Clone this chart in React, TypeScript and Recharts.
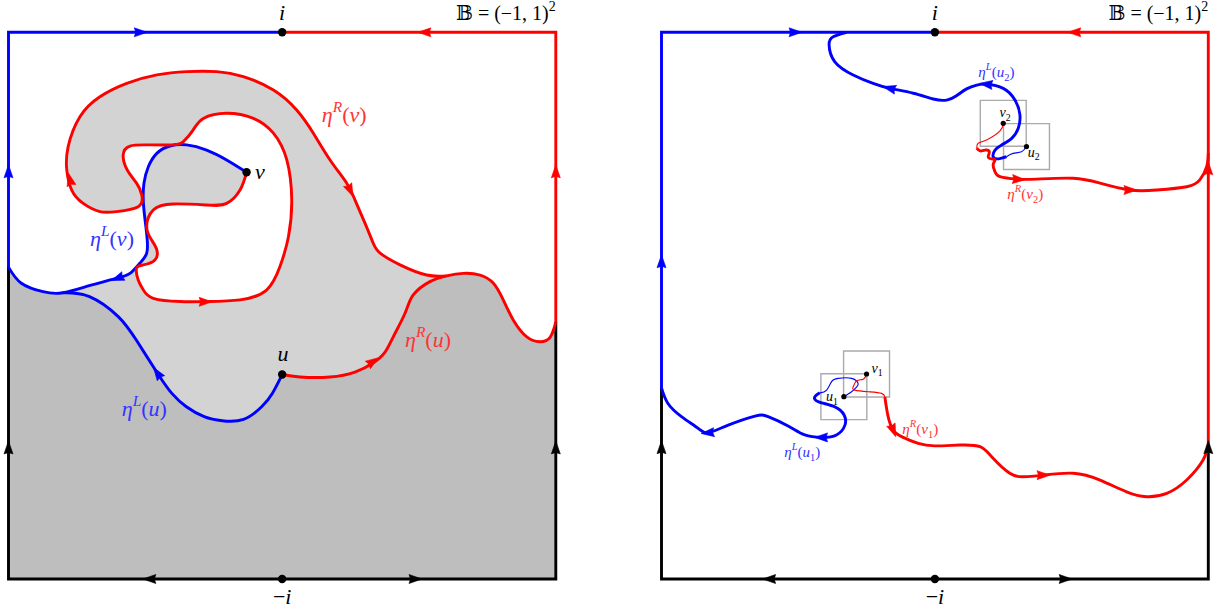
import React from 'react';
import { ComposedChart, XAxis, YAxis, Line, Area, Scatter, ReferenceArea, ReferenceDot } from 'recharts';

type Pt = { x: number; y: number };
type Arrow = { x: number; y: number; dx: number; dy: number };
type Lbl = { x: number; y: number; tex: string };

const BLUE = '#0000ff';
const RED = '#ff0000';
const BLACK = '#000000';
const LIGHT = '#d3d3d3';
const DARK = '#bebebe';
const WHITE = '#ffffff';
const LBL_BLUE = '#3333ff';
const LBL_RED = '#ff3333';
const BOX = '#aaaaaa';
const FONT = '"Liberation Serif", "DejaVu Serif", serif';
const BOX_HALF = 0.084;

// ================= LEFT PANEL (coordinates in B = (-1,1)^2) =================
const L_V: Pt = { x: -0.130, y: 0.488 };
const L_U: Pt = { x: 0.0, y: -0.252 };
const L_J: Pt = { x: 0.601, y: 0.109 };
const L_M: Pt = { x: -0.802, y: 0.047 };
const L_K: Pt = { x: -0.507, y: 0.374 };
const L_BL: Pt = { x: -1, y: -1 };
const L_BR: Pt = { x: 1, y: -1 };

// eta^R(v): from v, inner loop
const L_etaRvInner: Pt[] = [
  { x: -0.154, y: 0.423 }, { x: -0.203, y: 0.374 }, { x: -0.276, y: 0.368 }, { x: -0.398, y: 0.372 },
  { x: -0.471, y: 0.350 }, { x: -0.495, y: 0.289 }, { x: -0.477, y: 0.240 }, { x: -0.458, y: 0.204 },
  { x: -0.465, y: 0.167 }, { x: -0.507, y: 0.149 }, { x: -0.532, y: 0.137 }, { x: -0.526, y: 0.094 },
  { x: -0.507, y: 0.057 }, { x: -0.471, y: 0.027 }, { x: -0.373, y: 0.015 }, { x: -0.276, y: 0.015 },
  { x: -0.154, y: 0.021 }, { x: -0.057, y: 0.057 }, { x: -0.008, y: 0.143 }, { x: 0.023, y: 0.252 },
  { x: 0.035, y: 0.387 }, { x: 0.017, y: 0.533 }, { x: -0.032, y: 0.631 }, { x: -0.105, y: 0.685 },
  { x: -0.203, y: 0.704 }, { x: -0.288, y: 0.685 }, { x: -0.325, y: 0.643 }, { x: -0.361, y: 0.600 },
];
// eta^R(v): inner side of the "C"
const L_etaRvPocket: Pt[] = [
  { x: -0.398, y: 0.588 }, { x: -0.483, y: 0.588 }, { x: -0.556, y: 0.584 }, { x: -0.581, y: 0.551 },
  { x: -0.566, y: 0.496 }, { x: -0.532, y: 0.448 }, { x: -0.513, y: 0.405 },
];
// eta^R(v): outer arc down to the junction
const L_etaRvOuter: Pt[] = [
  { x: -0.526, y: 0.362 }, { x: -0.605, y: 0.344 }, { x: -0.666, y: 0.344 }, { x: -0.727, y: 0.374 },
  { x: -0.769, y: 0.423 }, { x: -0.787, y: 0.496 }, { x: -0.782, y: 0.582 }, { x: -0.739, y: 0.691 },
  { x: -0.666, y: 0.764 }, { x: -0.568, y: 0.813 }, { x: -0.458, y: 0.844 }, { x: -0.349, y: 0.856 },
  { x: -0.239, y: 0.856 }, { x: -0.142, y: 0.838 }, { x: -0.032, y: 0.789 }, { x: 0.053, y: 0.716 },
  { x: 0.114, y: 0.631 }, { x: 0.175, y: 0.533 }, { x: 0.236, y: 0.448 }, { x: 0.266, y: 0.387 },
  { x: 0.303, y: 0.301 }, { x: 0.333, y: 0.228 }, { x: 0.358, y: 0.192 }, { x: 0.431, y: 0.149 },
  { x: 0.528, y: 0.112 },
];
// eta^R(u)
const L_etaRuLow: Pt[] = [
  { x: 0.065, y: -0.261 }, { x: 0.175, y: -0.261 }, { x: 0.266, y: -0.243 }, { x: 0.332, y: -0.210 },
  { x: 0.376, y: -0.170 }, { x: 0.406, y: -0.114 }, { x: 0.449, y: -0.028 }, { x: 0.479, y: 0.039 },
  { x: 0.540, y: 0.088 },
];
const L_etaRuHigh: Pt[] = [
  { x: 0.662, y: 0.118 }, { x: 0.723, y: 0.112 }, { x: 0.772, y: 0.082 }, { x: 0.808, y: 0.021 },
  { x: 0.845, y: -0.053 }, { x: 0.894, y: -0.114 }, { x: 0.942, y: -0.132 }, { x: 0.979, y: -0.116 },
  { x: 1.0, y: -0.060 },
];
// eta^L(v)
const L_blueVTop: Pt[] = [{ x: -0.203, y: 0.533 }, { x: -0.276, y: 0.569 }, { x: -0.349, y: 0.588 }];
const L_blueVSide: Pt[] = [{ x: -0.410, y: 0.584 }, { x: -0.458, y: 0.557 }, { x: -0.489, y: 0.508 }, { x: -0.505, y: 0.448 }];
const L_blueVLow: Pt[] = [
  { x: -0.498, y: 0.289 }, { x: -0.493, y: 0.240 }, { x: -0.495, y: 0.192 }, { x: -0.520, y: 0.155 },
  { x: -0.556, y: 0.118 }, { x: -0.605, y: 0.100 }, { x: -0.702, y: 0.074 },
];
const L_blueEdge: Pt[] = [{ x: -0.874, y: 0.051 }, { x: -0.953, y: 0.082 }, { x: -1.0, y: 0.141 }];
// eta^L(u)
const L_etaLuPts: Pt[] = [
  { x: -0.036, y: -0.321 }, { x: -0.075, y: -0.370 }, { x: -0.141, y: -0.416 }, { x: -0.219, y: -0.421 },
  { x: -0.285, y: -0.406 }, { x: -0.350, y: -0.370 }, { x: -0.403, y: -0.321 }, { x: -0.455, y: -0.248 },
  { x: -0.533, y: -0.126 }, { x: -0.599, y: -0.040 }, { x: -0.704, y: 0.033 },
];
// boundary of B
const L_blueBoundary: Pt[] = [{ x: -1, y: 0.141 }, { x: -1, y: 1 }, { x: 0, y: 1 }];
const L_redBoundary: Pt[] = [{ x: 0, y: 1 }, { x: 1, y: 1 }, { x: 1, y: -0.060 }];
const L_blackBoundary: Pt[] = [{ x: -1, y: 0.141 }, { x: -1, y: -1 }, { x: 1, y: -1 }, { x: 1, y: -0.060 }];

const L_arrowsBlue: Arrow[] = [
  { x: -1, y: 0.489, dx: 0, dy: 1 }, { x: -0.519, y: 1, dx: 1, dy: 0 },
  { x: -0.600, y: 0.101, dx: -1, dy: -0.38 }, { x: -0.455, y: -0.248, dx: -0.7, dy: 1 },
];
const L_arrowsRed: Arrow[] = [
  { x: 0.522, y: 1, dx: -1, dy: 0 }, { x: 1, y: 0.489, dx: 0, dy: 1 },
  { x: 0.248, y: 0.423, dx: 0.45, dy: -1 }, { x: -0.775, y: 0.460, dx: -0.25, dy: 1 },
  { x: -0.282, y: 0.014, dx: 1, dy: 0 }, { x: 0.331, y: -0.205, dx: 1, dy: 0.67 },
];
const L_arrowsBlack: Arrow[] = [
  { x: -1, y: -0.521, dx: 0, dy: 1 }, { x: 1, y: -0.521, dx: 0, dy: 1 },
  { x: -0.483, y: -1, dx: -1, dy: 0 }, { x: 0.485, y: -1, dx: 1, dy: 0 },
];
const L_dots: Pt[] = [{ x: 0, y: 1 }, { x: 0, y: -1 }, L_U, L_V];

const L_labelsCenter: Lbl[] = [
  { x: 0, y: 1.045, tex: 'i' }, { x: 0, y: -1.093, tex: '−i' }, { x: 0.003, y: -0.2025, tex: 'u' },
];
const L_labelsEnd: Lbl[] = [{ x: 1.0, y: 1.045, tex: '𝔹 = (−1, 1)^{2}' }];
const L_labelsStart: Lbl[] = [{ x: -0.099, y: 0.463, tex: 'v' }];
const L_labelsBlue: Lbl[] = [
  { x: -0.702, y: 0.218, tex: 'η^{L}(v)' }, { x: -0.586, y: -0.404, tex: 'η^{L}(u)' },
];
const L_labelsRed: Lbl[] = [
  { x: 0.145, y: 0.672, tex: 'η^{R}(v)' }, { x: 0.449, y: -0.151, tex: 'η^{R}(u)' },
];

// ================= RIGHT PANEL =================
const R_V1: Pt = { x: -0.250, y: -0.250 };
const R_U1: Pt = { x: -0.333, y: -0.333 };
const R_V2: Pt = { x: 0.250, y: 0.667 };
const R_U2: Pt = { x: 0.335, y: 0.582 };

const R_etaLu2Thick: Pt[] = [
  { x: -0.323, y: 1.0 }, { x: -0.372, y: 0.984 }, { x: -0.387, y: 0.954 }, { x: -0.366, y: 0.892 },
  { x: -0.299, y: 0.844 }, { x: -0.226, y: 0.813 }, { x: -0.165, y: 0.795 }, { x: -0.079, y: 0.777 },
  { x: -0.006, y: 0.756 }, { x: 0.043, y: 0.752 }, { x: 0.079, y: 0.768 }, { x: 0.116, y: 0.793 },
  { x: 0.153, y: 0.807 }, { x: 0.189, y: 0.810 }, { x: 0.250, y: 0.795 }, { x: 0.293, y: 0.752 },
  { x: 0.311, y: 0.698 }, { x: 0.305, y: 0.649 }, { x: 0.281, y: 0.612 }, { x: 0.244, y: 0.588 },
  { x: 0.220, y: 0.569 }, { x: 0.213, y: 0.545 }, { x: 0.232, y: 0.537 }, { x: 0.262, y: 0.545 },
];
const R_etaLu2Thin: Pt[] = [{ x: 0.262, y: 0.545 }, { x: 0.286, y: 0.557 }, { x: 0.317, y: 0.563 }, R_U2];
const R_etaRv2Thin: Pt[] = [R_V2, { x: 0.238, y: 0.639 }, { x: 0.189, y: 0.606 }, { x: 0.158, y: 0.594 }, { x: 0.153, y: 0.576 }];
const R_etaRv2Thick: Pt[] = [
  { x: 0.153, y: 0.576 }, { x: 0.165, y: 0.566 }, { x: 0.183, y: 0.569 }, { x: 0.199, y: 0.563 },
  { x: 0.195, y: 0.545 }, { x: 0.207, y: 0.537 }, { x: 0.220, y: 0.533 }, { x: 0.213, y: 0.515 },
  { x: 0.220, y: 0.490 }, { x: 0.238, y: 0.472 }, { x: 0.299, y: 0.463 }, { x: 0.372, y: 0.463 },
  { x: 0.506, y: 0.466 }, { x: 0.604, y: 0.448 }, { x: 0.713, y: 0.423 }, { x: 0.811, y: 0.423 },
  { x: 0.921, y: 0.435 }, { x: 0.969, y: 0.460 }, { x: 0.994, y: 0.508 }, { x: 1.0, y: 0.558 },
];
const R_etaLu1Thin: Pt[] = [
  R_U1, { x: -0.305, y: -0.315 }, { x: -0.286, y: -0.297 }, { x: -0.281, y: -0.284 }, { x: -0.305, y: -0.266 },
  { x: -0.354, y: -0.266 }, { x: -0.378, y: -0.278 }, { x: -0.396, y: -0.309 }, { x: -0.421, y: -0.319 },
];
const R_etaLu1Thick: Pt[] = [
  { x: -0.421, y: -0.319 }, { x: -0.439, y: -0.333 }, { x: -0.427, y: -0.351 }, { x: -0.366, y: -0.370 },
  { x: -0.332, y: -0.400 }, { x: -0.329, y: -0.437 }, { x: -0.360, y: -0.473 }, { x: -0.414, y: -0.482 },
  { x: -0.476, y: -0.473 }, { x: -0.537, y: -0.440 }, { x: -0.610, y: -0.406 }, { x: -0.658, y: -0.404 },
  { x: -0.756, y: -0.437 }, { x: -0.829, y: -0.465 }, { x: -0.866, y: -0.449 }, { x: -0.927, y: -0.406 },
  { x: -0.977, y: -0.357 }, { x: -1.0, y: -0.301 },
];
const R_etaRv1Thin: Pt[] = [
  R_V1, { x: -0.262, y: -0.269 }, { x: -0.286, y: -0.275 }, { x: -0.299, y: -0.297 }, { x: -0.293, y: -0.309 },
  { x: -0.244, y: -0.315 }, { x: -0.195, y: -0.321 }, { x: -0.183, y: -0.334 },
];
const R_etaRv1Thick: Pt[] = [
  { x: -0.183, y: -0.334 }, { x: -0.171, y: -0.406 }, { x: -0.153, y: -0.455 }, { x: -0.122, y: -0.479 },
  { x: -0.061, y: -0.504 }, { x: 0.0, y: -0.513 }, { x: 0.091, y: -0.510 }, { x: 0.165, y: -0.516 },
  { x: 0.212, y: -0.557 }, { x: 0.274, y: -0.613 }, { x: 0.323, y: -0.626 }, { x: 0.395, y: -0.620 },
  { x: 0.506, y: -0.613 }, { x: 0.604, y: -0.638 }, { x: 0.701, y: -0.681 }, { x: 0.774, y: -0.699 },
  { x: 0.848, y: -0.687 }, { x: 0.921, y: -0.638 }, { x: 0.981, y: -0.565 }, { x: 1.0, y: -0.510 },
];
const R_blueBoundary: Pt[] = [{ x: -1, y: -0.301 }, { x: -1, y: 1 }, { x: 0, y: 1 }];
const R_redBoundary: Pt[] = [{ x: 0, y: 1 }, { x: 1, y: 1 }, { x: 1, y: -0.510 }];
const R_blackBoundary: Pt[] = [{ x: -1, y: -0.301 }, { x: -1, y: -1 }, { x: 1, y: -1 }, { x: 1, y: -0.510 }];

const R_arrowsBlue: Arrow[] = [
  { x: -1, y: 0.160, dx: 0, dy: 1 }, { x: -0.512, y: 1, dx: 1, dy: 0 },
  { x: -0.165, y: 0.795, dx: -1, dy: 0.25 }, { x: 0.189, y: 0.810, dx: -1, dy: 0.12 },
  { x: -0.829, y: -0.465, dx: -1, dy: -0.1 }, { x: -0.414, y: -0.482, dx: -1, dy: 0 },
];
const R_arrowsRed: Arrow[] = [
  { x: 0.512, y: 1, dx: -1, dy: 0 }, { x: 1, y: 0.500, dx: 0, dy: 1 },
  { x: 0.305, y: 0.462, dx: 1, dy: -0.05 }, { x: 0.713, y: 0.423, dx: 1, dy: 0 },
  { x: -0.153, y: -0.455, dx: 0.4, dy: -1 }, { x: 0.395, y: -0.620, dx: 1, dy: 0 },
];
const R_arrowsBlack: Arrow[] = [
  { x: -1, y: -0.520, dx: 0, dy: 1 }, { x: 1, y: -0.520, dx: 0, dy: 1 },
  { x: -0.604, y: -1, dx: -1, dy: 0 }, { x: 0.476, y: -1, dx: 1, dy: 0 },
];
const R_bigDots: Pt[] = [{ x: 0, y: 1 }, { x: 0, y: -1 }];
const R_smallDots: Pt[] = [R_V1, R_U1, R_V2, R_U2];
const R_boxCenters: Pt[] = [R_V1, R_U1, R_V2, R_U2];

const R_labelsCenter: Lbl[] = [{ x: 0, y: 1.045, tex: 'i' }, { x: 0, y: -1.093, tex: '−i' }];
const R_labelsEnd: Lbl[] = [{ x: 1.0, y: 1.045, tex: '𝔹 = (−1, 1)^{2}' }];
const R_labelsPoints: Lbl[] = [
  { x: 0.236, y: 0.690, tex: 'v_{2}' }, { x: 0.340, y: 0.544, tex: 'u_{2}' },
  { x: -0.2315, y: -0.246, tex: 'v_{1}' }, { x: -0.398, y: -0.349, tex: 'u_{1}' },
];
const R_labelsBlue: Lbl[] = [
  { x: 0.159, y: 0.836, tex: 'η^{L}(u_{2})' }, { x: -0.551, y: -0.554, tex: 'η^{L}(u_{1})' },
];
const R_labelsRed: Lbl[] = [
  { x: 0.265, y: 0.390, tex: 'η^{R}(v_{2})' }, { x: -0.119, y: -0.469, tex: 'η^{R}(v_{1})' },
];

// ================= derived tables =================
const rev = <T,>(a: T[]): T[] => [...a].reverse();

const L_etaRv: Pt[] = [L_V, ...L_etaRvInner, ...L_etaRvPocket, ...L_etaRvOuter, L_J];
const L_etaRu: Pt[] = [L_U, ...L_etaRuLow, L_J, ...L_etaRuHigh];
const L_etaLv: Pt[] = [L_V, ...L_blueVTop, ...L_blueVSide, L_K, ...L_blueVLow, L_M, ...L_blueEdge];
const L_etaLu: Pt[] = [L_U, ...L_etaLuPts, L_M];

const L_lightFill: Pt[] = [L_BL, ...rev(L_blueEdge), L_M, ...rev(L_blueVLow), L_K, ...L_etaRvOuter, L_J, ...L_etaRuHigh, L_BR, L_BL];
const L_whiteLoop: Pt[] = [L_V, ...L_etaRvInner, ...rev(L_blueVTop), L_V];
const L_whitePocket: Pt[] = [...L_etaRvPocket, ...rev(L_blueVSide), L_etaRvPocket[0]];
const L_darkFill: Pt[] = [...rev(L_blueEdge), L_M, ...rev(L_etaLuPts), L_U, ...L_etaRuLow, L_J, ...L_etaRuHigh];

// ================= rendering helpers =================
type Piece = { t: string; it: boolean; pos: number };
function parseMath(s: string): Piece[] {
  const runs: { t: string; pos: number }[] = [];
  let i = 0;
  while (i < s.length) {
    const c = s[i];
    if ((c === '^' || c === '_') && s[i + 1] === '{') {
      const end = s.indexOf('}', i + 2);
      runs.push({ t: s.slice(i + 2, end), pos: c === '^' ? 1 : -1 });
      i = end + 1;
    } else {
      let j = i;
      while (j < s.length && !((s[j] === '^' || s[j] === '_') && s[j + 1] === '{')) j++;
      runs.push({ t: s.slice(i, j), pos: 0 });
      i = j;
    }
  }
  const pieces: Piece[] = [];
  for (const r of runs) {
    let buf = '';
    let it: boolean | null = null;
    for (const ch of Array.from(r.t)) {
      const isIt = /[A-Za-zη]/.test(ch);
      if (it === null || isIt === it) {
        buf += ch;
        it = isIt;
      } else {
        pieces.push({ t: buf, it: !!it, pos: r.pos });
        buf = ch;
        it = isIt;
      }
    }
    if (buf) pieces.push({ t: buf, it: !!it, pos: r.pos });
  }
  return pieces;
}

function MathText({ cx, cy, tex, size, color, anchor }: { cx?: number; cy?: number; tex: string; size: number; color: string; anchor: 'start' | 'middle' | 'end' }) {
  if (cx == null || cy == null || isNaN(cx) || isNaN(cy)) return null;
  const pieces = parseMath(tex);
  let cur = 0;
  return (
    <text x={cx} y={cy} fontSize={size} fill={color} textAnchor={anchor} fontFamily={FONT} style={{ whiteSpace: 'pre' }}>
      {pieces.map((p, k) => {
        const target = p.pos === 1 ? -0.45 * size : p.pos === -1 ? 0.25 * size : 0;
        const dy = target - cur;
        cur = target;
        return (
          <tspan key={k} dy={dy} fontSize={p.pos ? size * 0.7 : size} fontStyle={p.it ? 'italic' : 'normal'}>
            {p.t}
          </tspan>
        );
      })}
    </text>
  );
}

const arrowShape = (color: string, len: number, wid: number) => (props: any) => {
  const { cx, cy, payload } = props;
  if (cx == null || cy == null) return <g />;
  const ang = (Math.atan2(-payload.dy, payload.dx) * 180) / Math.PI;
  const b = len * 0.45;
  const f = len * 0.55;
  return (
    <path
      d={`M${f},0 L${-b},${-wid / 2} L${-b * 0.75},0 L${-b},${wid / 2} Z`}
      fill={color}
      stroke={color}
      strokeWidth={0.6}
      strokeLinejoin="round"
      transform={`translate(${cx},${cy}) rotate(${ang})`}
    />
  );
};

const dotShape = (r: number) => (props: any) => {
  const { cx, cy } = props;
  if (cx == null || cy == null) return <g />;
  return <circle cx={cx} cy={cy} r={r} fill={BLACK} />;
};

const labelDots = (arr: Lbl[], size: number, color: string, anchor: 'start' | 'middle' | 'end', key: string) =>
  arr.map((l, k) => (
    <ReferenceDot
      key={`${key}${k}`}
      x={l.x}
      y={l.y}
      r={0}
      ifOverflow="visible"
      shape={(p: any) => <MathText cx={p.cx} cy={p.cy} tex={l.tex} size={size} color={color} anchor={anchor} />}
    />
  ));

const curve = (data: Pt[], color: string, width: number, type: 'natural' | 'linear', key: string) => (
  <Line
    key={key}
    data={data}
    dataKey="y"
    type={type}
    stroke={color}
    strokeWidth={width}
    dot={false}
    activeDot={false}
    isAnimationActive={false}
    strokeLinejoin="miter"
  />
);

const fill = (data: Pt[], color: string, type: 'natural' | 'linear', key: string) => (
  <Area
    key={key}
    data={data}
    dataKey="y"
    type={type}
    fill={color}
    fillOpacity={1}
    stroke="none"
    baseValue={-1}
    dot={false}
    activeDot={false}
    isAnimationActive={false}
  />
);

const arrows = (data: Arrow[], color: string, key: string, len = 13, wid = 9) => (
  <Scatter key={key} data={data} dataKey="y" shape={arrowShape(color, len, wid)} isAnimationActive={false} />
);

const THICK = 2.9;
const THIN = 1.1;

export default function App() {
  return (
    <div style={{ position: 'absolute', left: 0, top: 0, width: 1220, height: 614, background: WHITE }}>
      <div style={{ position: 'absolute', left: 0, top: 0 }}>
        <ComposedChart width={610} height={614} margin={{ top: 32.3, right: 54.2, bottom: 35, left: 8.5 }}>
          <XAxis type="number" dataKey="x" domain={[-1, 1]} hide />
          <YAxis type="number" dataKey="y" domain={[-1, 1]} hide />
          {fill(L_lightFill, LIGHT, 'linear', 'f1')}
          {fill(L_whiteLoop, WHITE, 'linear', 'f2')}
          {fill(L_whitePocket, WHITE, 'linear', 'f3')}
          {fill(L_darkFill, DARK, 'natural', 'f4')}
          {curve(L_blackBoundary, BLACK, THICK, 'linear', 'b1')}
          {curve(L_blueBoundary, BLUE, THICK, 'linear', 'b2')}
          {curve(L_redBoundary, RED, THICK, 'linear', 'b3')}
          {curve(L_etaLu, BLUE, THICK, 'natural', 'c1')}
          {curve(L_etaLv, BLUE, THICK, 'natural', 'c2')}
          {curve(L_etaRu, RED, THICK, 'natural', 'c3')}
          {curve(L_etaRv, RED, THICK, 'natural', 'c4')}
          {arrows(L_arrowsBlack, BLACK, 'a1')}
          {arrows(L_arrowsBlue, BLUE, 'a2')}
          {arrows(L_arrowsRed, RED, 'a3')}
          <Scatter data={L_dots} dataKey="y" shape={dotShape(4.2)} isAnimationActive={false} />
          {labelDots(L_labelsCenter, 22, BLACK, 'middle', 'lc')}
          {labelDots(L_labelsEnd, 20, BLACK, 'end', 'le')}
          {labelDots(L_labelsStart, 22, BLACK, 'start', 'ls')}
          {labelDots(L_labelsBlue, 22, LBL_BLUE, 'start', 'lb')}
          {labelDots(L_labelsRed, 22, LBL_RED, 'start', 'lr')}
        </ComposedChart>
      </div>
      <div style={{ position: 'absolute', left: 610, top: 0 }}>
        <ComposedChart width={610} height={614} margin={{ top: 32.3, right: 11.7, bottom: 35, left: 51.5 }}>
          <XAxis type="number" dataKey="x" domain={[-1, 1]} hide />
          <YAxis type="number" dataKey="y" domain={[-1, 1]} hide />
          {R_boxCenters.map((c, k) => (
            <ReferenceArea
              key={`box${k}`}
              x1={c.x - BOX_HALF}
              x2={c.x + BOX_HALF}
              y1={c.y - BOX_HALF}
              y2={c.y + BOX_HALF}
              fill="none"
              fillOpacity={0}
              stroke={BOX}
              strokeWidth={1.4}
              ifOverflow="visible"
            />
          ))}
          {curve(R_blackBoundary, BLACK, THICK, 'linear', 'b1')}
          {curve(R_blueBoundary, BLUE, THICK, 'linear', 'b2')}
          {curve(R_redBoundary, RED, THICK, 'linear', 'b3')}
          {curve(R_etaLu2Thick, BLUE, THICK, 'natural', 'c1')}
          {curve(R_etaLu2Thin, BLUE, THIN, 'natural', 'c2')}
          {curve(R_etaRv2Thick, RED, THICK, 'natural', 'c3')}
          {curve(R_etaRv2Thin, RED, THIN, 'natural', 'c4')}
          {curve(R_etaLu1Thick, BLUE, THICK, 'natural', 'c5')}
          {curve(R_etaLu1Thin, BLUE, THIN, 'natural', 'c6')}
          {curve(R_etaRv1Thick, RED, THICK, 'natural', 'c7')}
          {curve(R_etaRv1Thin, RED, THIN, 'natural', 'c8')}
          {arrows(R_arrowsBlack, BLACK, 'a1')}
          {arrows(R_arrowsBlue, BLUE, 'a2')}
          {arrows(R_arrowsRed, RED, 'a3')}
          <Scatter data={R_bigDots} dataKey="y" shape={dotShape(4.2)} isAnimationActive={false} />
          <Scatter data={R_smallDots} dataKey="y" shape={dotShape(2.6)} isAnimationActive={false} />
          {labelDots(R_labelsCenter, 22, BLACK, 'middle', 'rc')}
          {labelDots(R_labelsEnd, 20, BLACK, 'end', 're')}
          {labelDots(R_labelsPoints, 14, BLACK, 'start', 'rp')}
          {labelDots(R_labelsBlue, 15, LBL_BLUE, 'start', 'rb')}
          {labelDots(R_labelsRed, 15, LBL_RED, 'start', 'rr')}
        </ComposedChart>
      </div>
    </div>
  );
}
